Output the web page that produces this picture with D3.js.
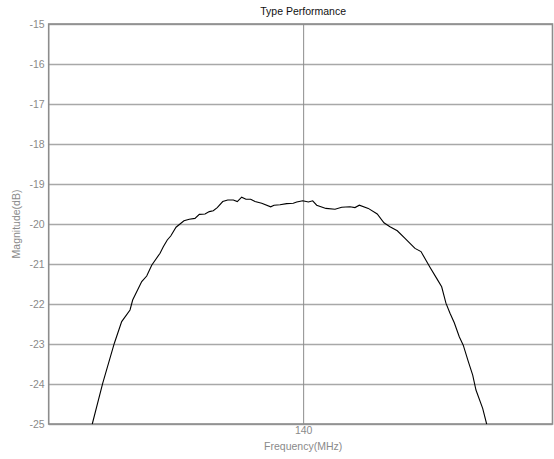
<!DOCTYPE html>
<html>
<head>
<meta charset="utf-8">
<script src="https://cdn.jsdelivr.net/npm/d3@7"></script>
<style>
  html, body { margin: 0; padding: 0; background: #fff; }
  svg { display: block; font-family: "Liberation Sans", Arial, sans-serif; }
</style>
</head>
<body>
<svg id="chart" width="554" height="459"></svg>
<script>
const title = "Type Performance";
const xLabel = "Frequency(MHz)";
const yLabel = "Magnitude(dB)";
const xDomain = [115, 164.5];
const yDomain = [-25, -15];
const xTicks = [140];
const yTicks = [-25, -24, -23, -22, -21, -20, -19, -18, -17, -16, -15];

const freq = [119.28, 120.31, 121.45, 122.17, 122.99, 123.25, 124.14, 124.63, 125.12, 125.94,
  126.26, 126.65, 126.99, 127.51, 128.29, 128.81, 129.37, 129.80, 130.36, 130.78,
  131.17, 131.56, 132.10, 132.59, 133.14, 133.53, 133.96, 134.38, 134.85, 135.27,
  135.93, 136.81, 137.14, 137.73, 138.38, 139.03, 139.37, 139.96, 140.51, 140.94,
  141.33, 142.24, 143.13, 143.79, 144.60, 145.09, 145.52, 146.40, 147.28, 147.94,
  148.53, 149.25, 150.01, 150.99, 151.58, 152.46, 153.12, 153.61, 154.03, 154.43,
  154.85, 155.34, 155.73, 156.23, 156.66, 156.98, 157.64, 158.03];
const magnitude = [-25.00, -23.98, -22.98, -22.44, -22.15, -21.90, -21.44, -21.30, -21.03, -20.73,
  -20.57, -20.40, -20.30, -20.08, -19.92, -19.88, -19.86, -19.76, -19.75, -19.69,
  -19.67, -19.59, -19.44, -19.40, -19.40, -19.44, -19.33, -19.38, -19.38, -19.44,
  -19.48, -19.57, -19.53, -19.52, -19.49, -19.48, -19.45, -19.42, -19.45, -19.42,
  -19.53, -19.61, -19.63, -19.58, -19.57, -19.59, -19.53, -19.61, -19.75, -19.97,
  -20.07, -20.17, -20.36, -20.61, -20.69, -21.08, -21.36, -21.57, -21.98, -22.23,
  -22.47, -22.82, -23.03, -23.44, -23.78, -24.15, -24.61, -25.00];

const svg = d3.select("#chart");
const m = { left: 48.7, right: 1.5, top: 24, bottom: 35 };
const W = 554, H = 459;
const x = d3.scaleLinear().domain(xDomain).range([m.left, W - m.right]);
const y = d3.scaleLinear().domain(yDomain).range([H - m.bottom, m.top]);
const fmt = d => String(d);

// horizontal grid
svg.append("g")
  .attr("transform", `translate(${m.left},0)`)
  .call(d3.axisLeft(y).tickValues(yTicks).tickSize(-(W - m.left - m.right)).tickFormat(""))
  .call(g => g.select(".domain").remove())
  .call(g => g.selectAll("line").attr("stroke", "#a8a8a8").attr("stroke-width", 1.3));

// vertical grid
svg.append("g")
  .attr("transform", `translate(0,${H - m.bottom})`)
  .call(d3.axisBottom(x).tickValues(xTicks).tickSize(-(H - m.top - m.bottom)).tickFormat(""))
  .call(g => g.select(".domain").remove())
  .call(g => g.selectAll("line").attr("stroke", "#8c8c8c").attr("stroke-width", 1));

// y tick labels
svg.append("g")
  .attr("transform", `translate(${m.left},0)`)
  .call(d3.axisLeft(y).tickValues(yTicks).tickSize(0).tickPadding(4).tickFormat(fmt))
  .call(g => g.select(".domain").remove())
  .call(g => g.selectAll("text").attr("fill", "#8a8a8a").attr("font-size", 10.5)
    .attr("font-family", "Liberation Sans, Arial, sans-serif"));

// x tick labels
svg.append("g")
  .attr("transform", `translate(0,${H - m.bottom})`)
  .call(d3.axisBottom(x).tickValues(xTicks).tickSize(0).tickPadding(3).tickFormat(fmt))
  .call(g => g.select(".domain").remove())
  .call(g => g.selectAll("text").attr("fill", "#8a8a8a").attr("font-size", 10.5)
    .attr("font-family", "Liberation Sans, Arial, sans-serif"));

// frame
svg.append("rect")
  .attr("x", m.left).attr("y", m.top)
  .attr("width", W - m.left - m.right).attr("height", H - m.top - m.bottom)
  .attr("fill", "none").attr("stroke", "#8c8c8c").attr("stroke-width", 1.6);

// curve
const data = freq.map((f, i) => [f, magnitude[i]]);
svg.append("path")
  .datum(data)
  .attr("fill", "none")
  .attr("stroke", "#000")
  .attr("stroke-width", 1.1)
  .attr("d", d3.line().x(d => x(d[0])).y(d => y(d[1])));

// title
svg.append("text")
  .attr("x", x(140)).attr("y", 15)
  .attr("text-anchor", "middle").attr("font-size", 10.5).attr("fill", "#111")
  .text(title);

// axis labels
svg.append("text")
  .attr("x", x(140)).attr("y", 450)
  .attr("text-anchor", "middle").attr("font-size", 10.5).attr("fill", "#8a8a8a")
  .text(xLabel);

svg.append("text")
  .attr("transform", `translate(20,${y(-20)}) rotate(-90)`)
  .attr("text-anchor", "middle").attr("font-size", 10.5).attr("fill", "#8a8a8a")
  .text(yLabel);
</script>
</body>
</html>
